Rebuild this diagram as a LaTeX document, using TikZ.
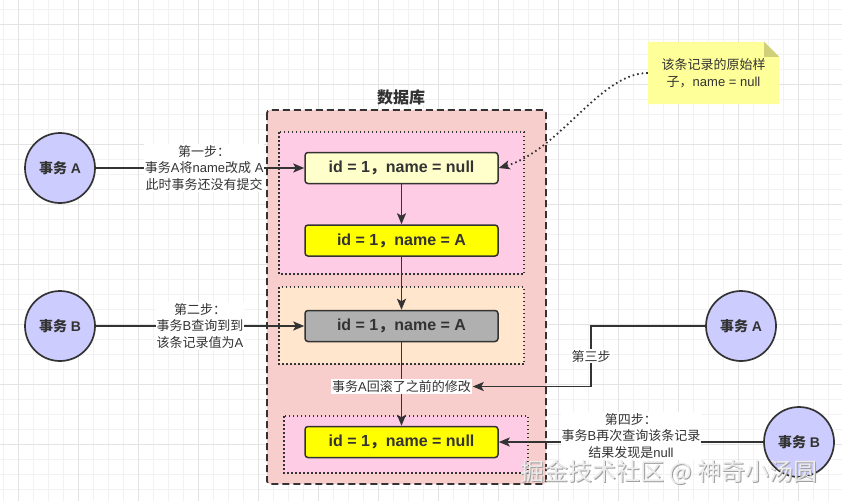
\documentclass[tikz,border=0pt]{standalone}
\usepackage{fontspec}
\setmainfont{Liberation Sans}
\newfontfamily\cjk{Noto Sans CJK SC}
\usetikzlibrary{arrows.meta}
\newcommand{\zh}[1]{{\cjk #1}}
\definecolor{ink}{HTML}{333333}
\definecolor{gridmin}{HTML}{F2F2F2}
\definecolor{gridmaj}{HTML}{E3E3E3}
\definecolor{dbfill}{HTML}{F8CECC}
\definecolor{pinkfill}{HTML}{FFCCE6}
\definecolor{peachfill}{HTML}{FFE6CC}
\definecolor{paleyellow}{HTML}{FFFFCC}
\definecolor{brightyellow}{HTML}{FFFF00}
\definecolor{grayfill}{HTML}{B0B0B0}
\definecolor{circfill}{HTML}{CCCCFF}
\definecolor{notefill}{HTML}{FFFF99}
\definecolor{notefold}{HTML}{D0D07A}
\begin{document}
\begin{tikzpicture}[x=1pt,y=-1pt,
  circnode/.style={circle, draw=ink, line width=1.7pt, fill=circfill, minimum size=70pt, inner sep=0pt, text=ink, font=\bfseries\fontsize{14}{16}\selectfont},
  recnode/.style={rectangle, rounded corners=3pt, draw=ink, line width=1.5pt, minimum width=193pt, minimum height=31pt, inner sep=0pt, text=ink, font=\bfseries\fontsize{16}{18}\selectfont},
  lab/.style={align=center, fill=white, inner sep=1pt, text=ink, font=\fontsize{13}{16.5}\selectfont},
  arr/.style={draw=ink, line width=1.8pt, -{Stealth[length=11pt,width=9pt,inset=2.5pt]}},
  dotbox/.style={draw=ink, line width=1.5pt, dash pattern=on 1.5pt off 2.5pt},
]
\useasboundingbox (0,0) rectangle (842,501);
\fill[white] (0,0) rectangle (842,501);
% grid
\foreach \i in {0,...,56} \draw[gridmin, line width=0.8pt] (3.3+15*\i,0) -- (3.3+15*\i,501);
\foreach \i in {0,...,33} \draw[gridmin, line width=0.8pt] (0,9.3+15*\i) -- (842,9.3+15*\i);
\foreach \i in {0,...,13} \draw[gridmaj, line width=0.8pt] (18.3+60*\i,0) -- (18.3+60*\i,501);
\foreach \i in {0,...,8} \draw[gridmaj, line width=0.8pt] (0,24.3+60*\i) -- (842,24.3+60*\i);

% database
\node[text=ink, font=\bfseries\fontsize{16}{18}\selectfont] (dbl) at (401,97) {\zh{数据库}};
\draw[draw=ink, fill=dbfill, line width=1.8pt, dash pattern=on 7pt off 4pt, rounded corners=3pt] (267,110) rectangle (546,484);
\draw[dotbox, fill=pinkfill] (279,132) rectangle (524,274);
\draw[dotbox, fill=peachfill] (279,287) rectangle (524,364);
\draw[dotbox, fill=pinkfill] (284,416) rectangle (528,473);

\node[recnode, fill=paleyellow] (n1) at (401.5,168) {id = 1\zh{，}name = null};
\node[recnode, fill=brightyellow] (n2) at (401.5,240.5) {id = 1\zh{，}name = A};
\node[recnode, fill=grayfill] (n3) at (401.5,326) {id = 1\zh{，}name = A};
\node[recnode, fill=brightyellow] (n4) at (401.5,442) {id = 1\zh{，}name = null};

% circles
\node[circnode] (A1) at (60,168) {\zh{事务} A};
\node[circnode] (B1) at (60,326) {\zh{事务} B};
\node[circnode] (A2) at (741,326) {\zh{事务} A};
\node[circnode] (B2) at (799,442) {\zh{事务} B};

% note
\node[minimum width=131pt, minimum height=62pt, inner sep=0pt, align=center, text=ink, font=\fontsize{13}{17}\selectfont] (note) at (713.5,73) {};
\fill[notefill] (note.north west) -- ([xshift=-15pt]note.north east) -- ([yshift=-15pt]note.north east) -- (note.south east) -- (note.south west) -- cycle;
\fill[notefold] ([xshift=-15pt]note.north east) -- ([yshift=-15pt]note.north east) -- ([xshift=-15pt,yshift=-15pt]note.north east) -- cycle;
\node[align=center, text=ink, font=\fontsize{13}{17}\selectfont] at (note.center) {\zh{该条记录的原始样}\\\zh{子，}name = null};

% connectors
\draw[arr] (n1) -- (n2);
\draw[arr] (n2) -- (n3);
\draw[arr] (n3) -- node[lab, pos=0.53] (rb) {\zh{事务}A\zh{回滚了之前的修改}} (n4);
\draw[arr] (A1) -- node[lab, pos=0.52] {\zh{第一步：}\\\zh{事务}A\zh{将}name\zh{改成} A\\\zh{此时事务还没有提交}} (n1);
\draw[arr] (B1) -- node[lab] {\zh{第二步：}\\\zh{事务}B\zh{查询到到}\\\zh{该条记录值为}A} (n3);
\coordinate (c3) at (591,326);
\draw[arr] (A2.west) -- (c3) |- node[lab, pos=0.25] {\zh{第三步}} (rb.east);
\draw[arr] (B2) -- node[lab, yshift=6pt] {\zh{第四步：}\\\zh{事务}B\zh{再次查询该条记录}\\\zh{结果发现是}null} (n4);
\draw[draw=ink, line width=1.8pt, dash pattern=on 1.6pt off 3pt, -{Stealth[length=11pt,width=9pt,inset=2.5pt]}] (note.west) .. controls (600,73) and (560,150) .. (n1.east);

% watermark
\node[text=gray!75, font=\cjk\fontsize{24}{26}\selectfont] at (670.2,473.2) {掘金技术社区 @ 神奇小汤圆};
\node[text=gray!15, font=\cjk\fontsize{24}{26}\selectfont] (wm) at (669,472) {掘金技术社区 @ 神奇小汤圆};
\end{tikzpicture}
\end{document}
